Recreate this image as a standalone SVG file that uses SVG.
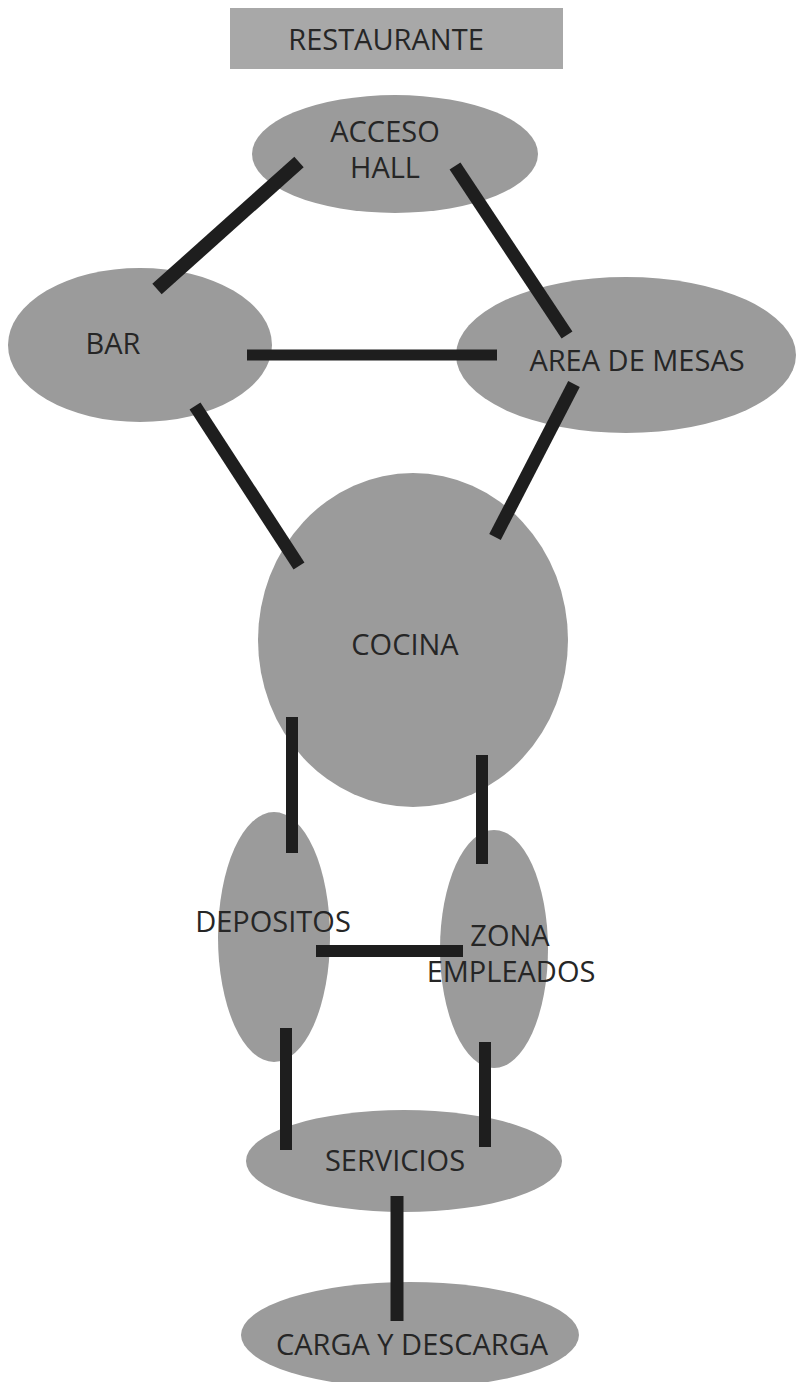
<svg xmlns="http://www.w3.org/2000/svg" width="796" height="1382" viewBox="0 0 796 1382">
<style>
.n{fill:#9b9b9b}
.t{font-family:"Open Sans","Noto Sans",sans-serif;font-size:29px;fill:#262626;text-anchor:middle}
.c line{stroke:#1e1e1e}
</style>
<rect width="796" height="1382" fill="#fff"/>
<g id="restaurante"><rect x="230" y="8" width="333" height="61" fill="#a8a8a8"/><text class="t" x="386" y="50">RESTAURANTE</text></g>
<g id="acceso"><ellipse class="n" cx="395" cy="154" rx="143" ry="59"/><text class="t" x="385" y="142">ACCESO</text><text class="t" x="385" y="178">HALL</text></g>
<g id="bar"><ellipse class="n" cx="140" cy="345" rx="132" ry="77"/><text class="t" x="113" y="354">BAR</text></g>
<g id="mesas"><ellipse class="n" cx="626" cy="355" rx="170" ry="78"/><text class="t" x="637" y="371">AREA DE MESAS</text></g>
<g id="cocina"><ellipse class="n" cx="413" cy="640" rx="155" ry="167"/><text class="t" x="405" y="655">COCINA</text></g>
<g id="depositos"><ellipse class="n" cx="274" cy="937" rx="56" ry="125"/><text class="t" x="273" y="932">DEPOSITOS</text></g>
<g id="zona"><ellipse class="n" cx="494" cy="949" rx="54" ry="119"/><text class="t" x="510" y="946">ZONA</text><text class="t" x="511" y="982">EMPLEADOS</text></g>
<g id="servicios"><ellipse class="n" cx="404" cy="1161" rx="158" ry="51"/><text class="t" x="395" y="1171">SERVICIOS</text></g>
<g id="carga"><ellipse class="n" cx="410" cy="1335" rx="169" ry="53"/><text class="t" x="412" y="1355">CARGA Y DESCARGA</text></g>
<g class="c">
<line x1="299" y1="162" x2="157" y2="289" stroke-width="14"/>
<line x1="455" y1="166" x2="567" y2="335" stroke-width="13"/>
<line x1="247" y1="355" x2="497" y2="355" stroke-width="11"/>
<line x1="195" y1="406" x2="299" y2="566" stroke-width="13"/>
<line x1="574" y1="384" x2="495" y2="537" stroke-width="13"/>
<line x1="292" y1="717" x2="292" y2="853" stroke-width="12"/>
<line x1="482" y1="755" x2="482" y2="864" stroke-width="12"/>
<line x1="316" y1="951" x2="463" y2="951" stroke-width="12"/>
<line x1="286" y1="1028" x2="286" y2="1150" stroke-width="12"/>
<line x1="485" y1="1042" x2="485" y2="1147" stroke-width="12"/>
<line x1="397" y1="1196" x2="397" y2="1321" stroke-width="13"/>
</g>
</svg>
